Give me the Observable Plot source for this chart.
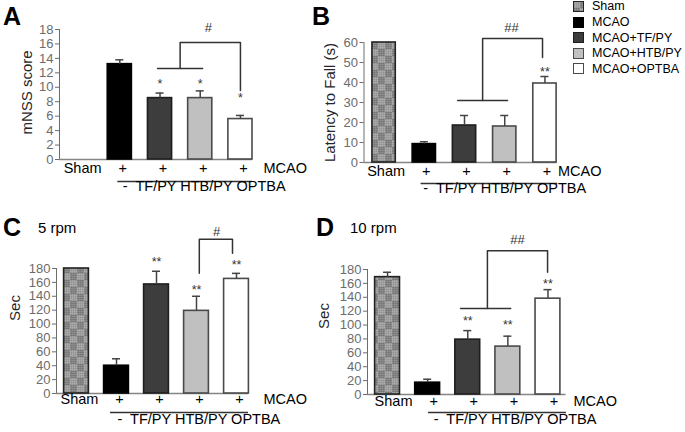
<!DOCTYPE html>
<html>
<head>
<meta charset="utf-8">
<script src="https://cdn.jsdelivr.net/npm/d3@7"></script>
<script src="https://cdn.jsdelivr.net/npm/@observablehq/plot@0.6"></script>
<style>
  html, body { margin: 0; padding: 0; background: #fff; }
  #fig { position: relative; width: 685px; height: 432px; overflow: hidden; font-family: "Liberation Sans", Arial, sans-serif; }
  .lbl { position: absolute; white-space: nowrap; line-height: 1; color: #000; }
</style>
</head>
<body>
<svg width="0" height="0" style="position:absolute">
  <defs>
    <pattern id="chk" width="14" height="14" patternUnits="userSpaceOnUse">
      <rect width="14" height="14" fill="#808080"/>
      <rect width="7" height="7" fill="#a0a0a0"/>
      <rect x="7" y="7" width="7" height="7" fill="#a0a0a0"/>
      <path d="M0 1.5h14M0 3.5h14M0 5.5h14M0 8.5h14M0 10.5h14M0 12.5h14" stroke="#ffffff" stroke-opacity="0.13" stroke-width="1"/>
      <path d="M1.5 0v14M3.5 0v14M5.5 0v14M8.5 0v14M10.5 0v14M12.5 0v14" stroke="#000000" stroke-opacity="0.08" stroke-width="1"/>
    </pattern>
  </defs>
</svg>
<div id="fig"></div>
<script>
// ---------- data ----------
const categories = ["Sham", "MCAO", "MCAO+TF/PY", "MCAO+HTB/PY", "MCAO+OPTBA"];
const mcaoRow = ["Sham", "+", "+", "+", "+"];
const treatRow = "-  TF/PY HTB/PY OPTBA";

// Panel A: mNSS score
const aMean = [0, 13.2, 8.5, 8.5, 5.6];
const aErr  = [0, 13.8, 9.2, 9.5, 6.1];
const aStars = ["", "", "*", "*", "*"];
const aStarY = [null, null, 10.9, 10.9, 9.0];
const aTicks = [0, 2, 4, 6, 8, 10, 12, 14, 16, 18];
const aBrackets = [
  [{x: 1.94, y: 12.6}, {x: 3.06, y: 12.6}],
  [{x: 2.5, y: 12.6}, {x: 2.5, y: 16.2}, {x: 4.0, y: 16.2}, {x: 4.0, y: 9.55}]
];
const aSig = {x: 3.2, y: 18.3, t: "#"};

// Panel B: latency to fall (s)
const bMean = [60, 9.2, 18.5, 18, 39.5];
const bErr  = [60, 10.4, 23.5, 23.5, 43];
const bStars = ["", "", "", "", "**"];
const bStarY = [null, null, null, null, 47];
const bTicks = [0, 10, 20, 30, 40, 50, 60];
const bBrackets = [
  [{x: 1.83, y: 31}, {x: 3.07, y: 31}],
  [{x: 2.45, y: 31}, {x: 2.45, y: 62}, {x: 3.94, y: 62}, {x: 3.94, y: 52.5}]
];
const bSig = {x: 3.17, y: 67.5, t: "##"};

// Panel C: 5 rpm (Sec)
const cMean = [180, 40, 157, 119, 165];
const cErr  = [180, 50, 176, 140, 173];
const cStars = ["", "", "**", "**", "**"];
const cStarY = [null, null, 193, 154, 189];
const cTicks = [0, 20, 40, 60, 80, 100, 120, 140, 160, 180];
const cBrackets = [
  [{x: 3.07, y: 173}, {x: 3.07, y: 222}, {x: 3.9, y: 222}, {x: 3.9, y: 202}]
];
const cSig = {x: 3.5, y: 233, t: "#"};

// Panel D: 10 rpm (Sec)
const dMean = [169, 17, 79, 69, 138];
const dErr  = [176, 22, 92, 84, 151];
const dStars = ["", "", "**", "**", "**"];
const dStarY = [null, null, 109.5, 104, 164];
const dTicks = [0, 20, 40, 60, 80, 100, 120, 140, 160, 180];
const dBrackets = [
  [{x: 1.82, y: 124}, {x: 3.07, y: 124}],
  [{x: 2.49, y: 124}, {x: 2.49, y: 207}, {x: 3.99, y: 207}, {x: 3.99, y: 176}]
];
const dSig = {x: 3.24, y: 223, t: "##"};

// ---------- styles ----------
const fills   = ["url(#chk)", "#000000", "#3d3d3d", "#c0c0c0", "#ffffff"];
const strokes = ["#222222", "#000000", "#1e1e1e", "#4a4a4a", "#4a4a4a"];
const FONT = "Liberation Sans, Arial, sans-serif";
const W = 685, H = 432;
const fig = document.getElementById("fig");

function drawPanel(p) {
  const data = categories.map((c, i) => ({i, cat: c, mean: p.mean[i], err: p.err[i], star: p.stars[i], starY: p.starY[i]}));
  const bars = data.filter(d => d.mean > 0);
  const errs = data.filter(d => d.err > d.mean);
  const stars = data.filter(d => d.star);
  const cap = 0.1;
  const marks = [
    Plot.ruleY([0], {x1: () => -0.5, x2: () => 4 + p.axisEnd, stroke: "#858585", strokeWidth: 1.3}),
    ...bars.map(b => Plot.rectY([b], {
      x1: d => d.i - p.barHalf, x2: d => d.i + p.barHalf, y: "mean",
      fill: fills[b.i], stroke: strokes[b.i], strokeWidth: 1.6
    })),
    Plot.ruleX(errs, {x: "i", y1: "mean", y2: "err", stroke: "#444", strokeWidth: 1.5}),
    Plot.ruleY(errs, {y: "err", x1: d => d.i - cap, x2: d => d.i + cap, stroke: "#444", strokeWidth: 1.5}),
    Plot.text(stars, {x: "i", y: "starY", text: "star", dy: 3, fontSize: 12.5, fill: "#333", fontFamily: FONT}),
    ...p.brackets.map(b => Plot.line(b, {x: "x", y: "y", stroke: "#333", strokeWidth: 1.5})),
    Plot.text([p.sig], {x: "x", y: "y", text: "t", fontSize: 13, fill: "#333", fontFamily: FONT}),
    Plot.text(data, {x: "i", text: d => mcaoRow[d.i], frameAnchor: "bottom", textAnchor: "middle", dx: p.r1dx, dy: p.r1dy, fontSize: 14.5, fill: "#000", fontFamily: FONT}),
    Plot.text(["MCAO"], {x: () => 4, text: d => d, textAnchor: "start", frameAnchor: "bottom", dx: p.mdx, dy: p.r1dy, fontSize: 14.5, fill: "#000", fontFamily: FONT}),
    Plot.ruleY([0], {x1: () => 1 + p.ul[0], x2: () => 4 + p.ul[1], dy: p.ldy, stroke: "#333", strokeWidth: 1.3}),
    Plot.text([treatRow], {x: () => 1, text: d => d, textAnchor: "start", frameAnchor: "bottom", dx: p.r2dx, dy: p.r2dy, fontSize: 14.5, fill: "#000", fontFamily: FONT}),
    Plot.text([p.yLabel], {text: d => d, frameAnchor: "left", textAnchor: "middle", rotate: -90, dx: p.labDx, dy: p.labDy, fontSize: 15, fill: "#262626", fontFamily: FONT})
  ];
  const svg = Plot.plot({
    width: W, height: H,
    marginLeft: p.left, marginRight: W - p.right, marginTop: p.top, marginBottom: H - p.base,
    x: {domain: [-0.5, 4.3], axis: null},
    y: {domain: [0, p.ymax], ticks: p.ticks, tickFormat: d => String(d), tickSize: 4, tickPadding: 2, line: true, label: null, grid: false},
    style: {position: "absolute", left: "0px", top: "0px", background: "transparent", color: "#6c6c6c",
            fontFamily: FONT, fontSize: "13px", overflow: "visible"},
    marks
  });
  fig.appendChild(svg);
}

drawPanel({mean: aMean, err: aErr, stars: aStars, starY: aStarY, ticks: aTicks, ymax: 18,
  left: 59, right: 252, top: 29, base: 159, barHalf: 0.3, brackets: aBrackets, sig: aSig, axisEnd: 0.3, ul: [-0.05, 0.3],
  yLabel: "mNSS score", labDx: -32, labDy: -2, r1dx: 3, r1dy: 13, mdx: 23, ldy: 22, r2dx: 3, r2dy: 31});
drawPanel({mean: bMean, err: bErr, stars: bStars, starY: bStarY, ticks: bTicks, ymax: 60,
  left: 363.5, right: 556.5, top: 42, base: 162, barHalf: 0.29, brackets: bBrackets, sig: bSig, axisEnd: 0.3, ul: [-0.08, 0.32],
  yLabel: "Latency to Fall (s)", labDx: -33.5, labDy: 0, r1dx: 2, r1dy: 13, mdx: 13, ldy: 21, r2dx: -1, r2dy: 30});
drawPanel({mean: cMean, err: cErr, stars: cStars, starY: cStarY, ticks: cTicks, ymax: 180,
  left: 56, right: 248, top: 268, base: 393, barHalf: 0.31, brackets: cBrackets, sig: cSig, axisEnd: 0.3, ul: [-0.15, 0.3],
  yLabel: "Sec", labDx: -41, labDy: -23, r1dx: 3, r1dy: 10, mdx: 27, ldy: 19, r2dx: 1, r2dy: 30});
drawPanel({mean: dMean, err: dErr, stars: dStars, starY: dStarY, ticks: dTicks, ymax: 180,
  left: 367, right: 559.5, top: 269, base: 394, barHalf: 0.31, brackets: dBrackets, sig: dSig, axisEnd: 0.45, ul: [0.02, 0.46],
  yLabel: "Sec", labDx: -43, labDy: -16, r1dx: 6, r1dy: 11, mdx: 25.5, ldy: 18, r2dx: 6, r2dy: 29});

// ---------- panel letters and subtitles ----------
const labels = [
  {t: "A", x: 3, y: 3.8, size: 25, bold: true},
  {t: "B", x: 312, y: 3.8, size: 25, bold: true},
  {t: "C", x: 3, y: 215.3, size: 25, bold: true},
  {t: "D", x: 316, y: 215.3, size: 25, bold: true},
  {t: "5 rpm", x: 38, y: 219.7, size: 15, bold: false},
  {t: "10 rpm", x: 350, y: 219.7, size: 15, bold: false}
];
for (const l of labels) {
  const el = document.createElement("div");
  el.className = "lbl";
  el.textContent = l.t;
  el.style.left = l.x + "px";
  el.style.top = l.y + "px";
  el.style.fontSize = l.size + "px";
  el.style.fontWeight = l.bold ? "bold" : "normal";
  fig.appendChild(el);
}

// ---------- legend ----------
categories.forEach((c, i) => {
  const cy = 6.5 + 15.6 * i;
  const sw = document.createElementNS("http://www.w3.org/2000/svg", "svg");
  sw.setAttribute("width", 11); sw.setAttribute("height", 11);
  sw.style.position = "absolute"; sw.style.left = "573px"; sw.style.top = (cy - 5.5) + "px";
  sw.innerHTML = `<rect x="0.5" y="0.5" width="10" height="10" fill="${fills[i]}" stroke="${strokes[i]}" stroke-width="1"/>`;
  fig.appendChild(sw);
  const el = document.createElement("div");
  el.className = "lbl";
  el.textContent = c;
  el.style.left = "592px";
  el.style.fontSize = "12.5px";
  el.style.top = (cy - 6.1) + "px";
  fig.appendChild(el);
});
</script>
</body>
</html>
